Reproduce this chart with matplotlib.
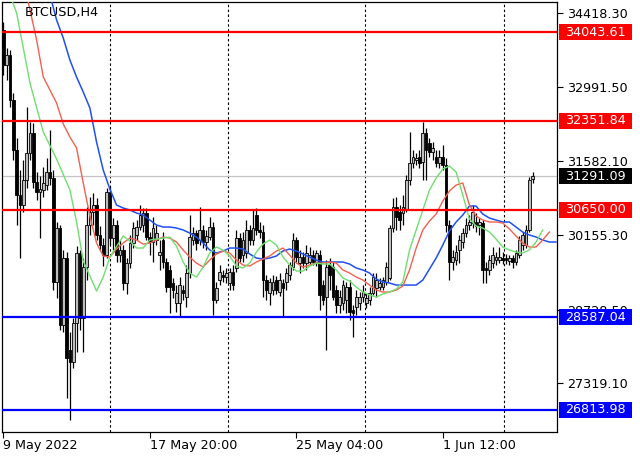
import matplotlib
matplotlib.use('Agg')
import matplotlib.pyplot as plt
from matplotlib.patches import Rectangle
import matplotlib.transforms as mtransforms

# ---------------- data ----------------
chart_title = "BTCUSD,H4"

opens = [34088, 33417, 33609, 32747, 31790, 30928, 30736, 31215, 31732, 32115,
         31177, 30985, 31024, 31119, 31368, 31253, 29262, 30296, 28438, 29721,
         27960, 27730, 28477, 29817, 28572, 29549, 30353, 30602, 30736, 30162,
         29970, 29779, 30985, 30104, 30353, 29779, 29875, 29243, 29626, 30009,
         30162, 30315, 30353, 30583, 30123, 30028, 30066, 29779, 30066, 29645,
         29492, 29243, 28860, 28860, 29109, 28974, 29434, 30066, 30200, 30066,
         30257, 30028, 30123, 30315, 28917, 29300, 29396, 29357, 29243, 29453,
         29530, 30104, 29779, 29817, 30258, 30066, 30545, 30258, 30219, 29300,
         29051, 29109, 29300, 29070, 29243, 29262, 29396, 29549, 30066, 29626,
         29740, 29626, 29645, 29779, 29645, 29779, 29204, 28974, 29587, 29549,
         29109, 28821, 28860, 28917, 29166, 28726, 28783, 28860, 28974, 28860,
         28917, 29051, 29147, 29166, 29166, 29262, 29338, 30296, 30698, 30602,
         30583, 30641, 31215, 31540, 31598, 31655, 31560, 32115, 31924, 31751,
         31655, 31540, 31655, 31502, 30353, 29645, 29683, 29875, 30028, 30200,
         30353, 30392, 30411, 30353, 30392, 29530, 29492, 29625, 29683, 29683,
         29721, 29721, 29664, 29721, 29645, 29779, 29970, 29970, 30258, 31230]

highs = [34241, 33743, 33705, 32881, 32019, 31407, 31598, 32613, 32326, 32307,
         31368, 31292, 31464, 31636, 32173, 31407, 30411, 30353, 29875, 29836,
         28304, 28572, 29951, 29875, 29721, 30698, 30889, 30966, 30870, 30334,
         30104, 31062, 31081, 30487, 30449, 30066, 29970, 29721, 30162, 30411,
         30449, 30736, 30679, 30679, 30219, 30506, 30353, 30066, 30219, 29721,
         29587, 29338, 29204, 29357, 29204, 29587, 30545, 30315, 30257, 30698,
         30353, 30257, 30506, 30411, 29262, 29587, 29492, 29530, 29530, 29587,
         30258, 30200, 30219, 30449, 30353, 30641, 30679, 30411, 30353, 29396,
         29338, 29396, 29377, 29434, 29319, 29530, 29645, 30200, 30123, 29875,
         29836, 29970, 29932, 29875, 29875, 29875, 29300, 29683, 29721, 29645,
         29204, 29109, 29300, 29262, 29300, 28821, 29109, 29070, 29204, 29051,
         29166, 29434, 29434, 29338, 29357, 29645, 30353, 30870, 30889, 30736,
         30928, 31311, 32134, 31790, 31732, 31790, 32326, 32211, 32019, 31943,
         31790, 31790, 31885, 31636, 30449, 29875, 29970, 30162, 30296, 30487,
         30545, 30736, 30583, 30487, 30449, 29645, 29779, 29932, 29836, 29932,
         29836, 29798, 29779, 29779, 29875, 30143, 30219, 30353, 31273, 31368]

lows = [33226, 33130, 32613, 31598, 30353, 29721, 30602, 31062, 31598, 31062,
        30832, 30104, 30889, 31024, 31119, 29109, 28955, 28343, 28304, 27040,
        26619, 27615, 27921, 28343, 27921, 29300, 30162, 30353, 30066, 29875,
        29568, 29721, 29970, 29875, 29645, 29645, 29109, 29032, 29530, 29913,
        30066, 30258, 30219, 30066, 29779, 29645, 29970, 29492, 29530, 29070,
        28668, 28955, 28687, 28591, 28917, 28783, 29338, 29970, 29875, 29970,
        29913, 29875, 30066, 28630, 28860, 29204, 29262, 29243, 29109, 29109,
        29453, 29645, 29645, 29721, 29970, 29970, 30162, 30104, 28974, 28917,
        28821, 29013, 29032, 28994, 28591, 29109, 29300, 29492, 29645, 29434,
        29530, 29492, 29587, 29587, 29568, 28726, 28821, 27960, 29109, 28917,
        28668, 28668, 28726, 28668, 28534, 28208, 28630, 28726, 28879, 28764,
        28821, 29013, 28974, 29109, 29109, 29204, 29300, 30219, 30258, 30258,
        30353, 30602, 31119, 31445, 31502, 31445, 31215, 31215, 31655, 31598,
        31464, 31445, 31407, 30219, 29300, 29492, 29587, 29625, 29913, 30124,
        30258, 30296, 30219, 30162, 29243, 29243, 29396, 29530, 29587, 29625,
        29606, 29606, 29587, 29530, 29587, 29721, 29875, 29913, 30219, 31158]

closes = [33417, 33609, 32747, 31790, 30928, 30736, 31215, 31732, 32115, 31177,
          30985, 31043, 31158, 31368, 31253, 29262, 30296, 28438, 29721, 27806,
          27730, 28477, 29817, 28572, 29549, 30353, 30602, 30736, 30162, 29970,
          29779, 30985, 30104, 30353, 29779, 29875, 29243, 29626, 30009, 30296,
          30315, 30545, 30583, 30123, 30028, 30296, 30200, 29836, 29645, 29166,
          29166, 29109, 29051, 29204, 29051, 29434, 30123, 30200, 30009, 30257,
          30028, 30143, 30315, 28917, 29147, 29453, 29357, 29434, 29453, 29204,
          30104, 29721, 30066, 30258, 30066, 30296, 30258, 30219, 29300, 29109,
          29262, 29262, 29109, 29300, 29147, 29434, 29587, 30066, 29740, 29740,
          29626, 29817, 29779, 29645, 29817, 29013, 28917, 29549, 29396, 28974,
          28821, 28974, 29204, 29166, 28687, 28668, 28974, 28974, 29070, 28955,
          29051, 29357, 29300, 29243, 29300, 29549, 30296, 30698, 30506, 30449,
          30698, 31215, 31540, 31655, 31636, 31540, 32115, 31790, 31751, 31828,
          31540, 31655, 31502, 30353, 29645, 29740, 29836, 30066, 30200, 30353,
          30411, 30602, 30334, 30411, 29492, 29492, 29683, 29779, 29740, 29740,
          29683, 29683, 29721, 29645, 29817, 30066, 30162, 30258, 31215, 31291.09]

# Alligator lines (bar index, price)
lips_x = [2, 4, 8, 12, 16, 20, 22, 24, 28, 30, 32, 36, 38, 40, 42, 44, 48, 50, 52, 54,
          56, 58, 60, 62, 64, 66, 68, 70, 72, 74, 76, 78, 80, 82, 84, 86, 88, 90, 92, 94,
          96, 98, 100, 102, 104, 106, 108, 110, 112, 114, 116, 118, 120, 122, 124, 126,
          128, 130, 132, 134, 136, 138, 140, 142, 144, 146, 148, 150, 152, 154, 156, 158,
          160, 162]
lips_y = [34758, 34413, 33072, 32134, 31617, 31024, 30411, 29664, 29090, 29357, 29740,
          30143, 30047, 29913, 29913, 30066, 30104, 30124, 29951, 29645, 29434, 29357,
          29549, 29817, 29932, 29875, 29760, 29568, 29530, 29625, 29836, 29989, 30066,
          29970, 29740, 29587, 29472, 29472, 29568, 29625, 29606, 29606, 29492, 29338,
          29281, 29166, 29070, 29013, 28974, 29032, 29070, 29128, 29262, 29875, 30258,
          30641, 31024, 31253, 31426, 31483, 31368, 30928, 30468, 30334, 30296, 30219,
          30085, 29932, 29875, 29836, 29817, 29875, 30028, 30258]

teeth_x = list(range(6, 166, 2))
teeth_y = [35045, 34471, 33896, 33187, 32939, 32689, 32287, 32039, 31828, 31158,
           30526, 30009, 29760, 29740, 29894, 30009, 30104, 30066, 29989, 30009,
           30066, 30124, 30104, 30028, 29875, 29740, 29625, 29549, 29683, 29798,
           29855, 29817, 29683, 29587, 29568, 29645, 29702, 29760, 29855, 29913,
           29779, 29625, 29549, 29587, 29625, 29625, 29645, 29625, 29492, 29434,
           29357, 29300, 29204, 29109, 29070, 29070, 29109, 29185, 29492, 29913,
           30258, 30430, 30564, 30813, 31005, 31119, 31158, 30736, 30526, 30449,
           30411, 30411, 30392, 30277, 30143, 30009, 29932, 29932, 30066, 30219]

jaw_x = list(range(14, 168, 2))
jaw_y = [34758, 34279, 33934, 33513, 33187, 32900, 32594, 31943, 31407, 31043,
         30736, 30679, 30641, 30583, 30545, 30449, 30353, 30315, 30315, 30296,
         30258, 30200, 30124, 30009, 29875, 29817, 29855, 29913, 29913, 29894,
         29798, 29721, 29702, 29721, 29760, 29855, 29894, 29855, 29798, 29740,
         29683, 29645, 29645, 29645, 29645, 29606, 29530, 29492, 29434, 29319,
         29262, 29243, 29204, 29204, 29204, 29204, 29300, 29511, 29721, 29970,
         30239, 30411, 30545, 30717, 30717, 30564, 30487, 30449, 30411, 30411,
         30315, 30219, 30162, 30124, 30066, 30028, 30028]

red_levels = [34043.61, 32351.84, 30650.00]
blue_levels = [28587.04, 26813.98]
last_price = 31291.09
ytick_values = [34418.30, 32991.50, 31582.10, 30155.30, 28728.50, 27319.10]
xtick_bars = [0, 44, 88, 132]
xtick_labels = ["9 May 2022", "17 May 20:00", "25 May 04:00", "1 Jun 12:00"]
separator_bars = [32, 67.5, 108.6, 150.4]

# ---------------- figure ----------------
FS = 9.2
plt.rcParams['font.family'] = ['DejaVu Sans']
fig = plt.figure(figsize=(6.4, 4.57), dpi=100)
ax = fig.add_axes([2 / 640, 25 / 457, 555 / 640, 430 / 457])
ymin, ymax = 26390, 34624
ax.set_xlim(-0.4, 166.3)
ax.set_ylim(ymin, ymax)

# separators and last price line
for xb in separator_bars:
    ax.axvline(xb, color='black', lw=0.8, ls=(0, (2.2, 2.2)), zorder=1)
ax.axhline(last_price, color='#c4c4c4', lw=0.9, zorder=1)

# candles
idx = list(range(len(opens)))
ax.vlines(idx, lows, highs, color='black', lw=0.9, zorder=2)
min_h = (ymax - ymin) / 430 * 1.0
for i, o, c in zip(idx, opens, closes):
    bull = c >= o
    bottom = min(o, c)
    height = max(abs(c - o), min_h)
    ax.add_patch(Rectangle((i - 0.4, bottom), 0.8, height,
                           facecolor='#bdbdbd' if bull else 'black',
                           edgecolor='black', lw=0.6, zorder=3))

# alligator
ax.plot(jaw_x, jaw_y, color='#2050f0', lw=1.1, zorder=4)
ax.plot(teeth_x, teeth_y, color='#f5604f', lw=1.0, zorder=4)
ax.plot(lips_x, lips_y, color='#6fe06f', lw=1.0, zorder=4)

# horizontal levels
for lv in red_levels:
    ax.axhline(lv, color='#ff0000', lw=1.6, zorder=5)
for lv in blue_levels:
    ax.axhline(lv, color='#0000ff', lw=1.6, zorder=5)

# title
ax.text(23 / 555, 1 - 4 / 430, chart_title, transform=ax.transAxes,
        ha='left', va='top', fontsize=FS, color='black', zorder=6)

# axes styling
for sp in ax.spines.values():
    sp.set_color('black')
    sp.set_linewidth(0.9)
ax.yaxis.tick_right()
ax.set_yticks(ytick_values)
ax.set_yticklabels([f"{v:.2f}" for v in ytick_values])
ax.tick_params(axis='y', direction='out', length=4, width=0.8, pad=3,
               labelsize=FS, colors='black')
ax.set_xticks(xtick_bars)
ax.set_xticklabels(xtick_labels)
for lab in ax.get_xticklabels():
    lab.set_horizontalalignment('left')
ax.tick_params(axis='x', direction='out', length=4, width=0.8, pad=1,
               labelsize=FS, colors='black')

# price tags on the right
trans = mtransforms.blended_transform_factory(ax.transAxes, ax.transData)
box_h = 16 * (ymax - ymin) / 430
tags = [(v, '#ff0000') for v in red_levels] + [(v, '#0000ff') for v in blue_levels] \
       + [(last_price, 'black')]
for v, col in tags:
    ax.add_patch(Rectangle((557 / 555 - 0.0, v - box_h / 2), 73 / 555, box_h,
                           transform=trans, facecolor=col, edgecolor='none',
                           clip_on=False, zorder=10))
    ax.text(563 / 555, v, f"{v:.2f}", transform=trans, ha='left', va='center',
            fontsize=FS, color='white', clip_on=False, zorder=11)

fig.savefig('out.png', dpi=100, facecolor='white')
